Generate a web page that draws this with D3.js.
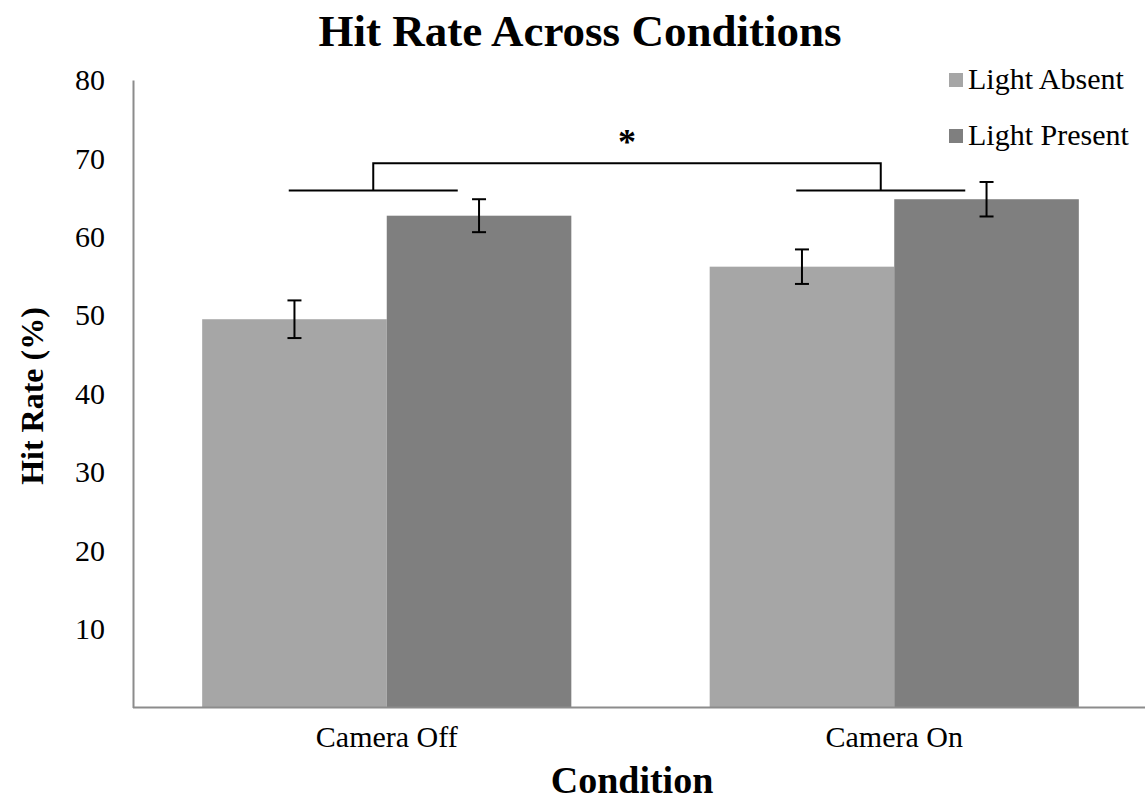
<!DOCTYPE html>
<html>
<head>
<meta charset="utf-8">
<script src="https://cdn.jsdelivr.net/npm/d3@7"></script>
<style>
  body { margin: 0; background: #fff; }
  text { font-family: "Liberation Serif", "Times New Roman", serif; fill: #000; }
</style>
</head>
<body>
<svg width="1145" height="801"></svg>
<script>
// data
let conditions = ["Camera Off", "Camera On"];
let series = ["Light Absent", "Light Present"];
let absentVals = [49.5, 56.2];
let presentVals = [62.7, 64.8];
let absentErr = [2.4, 2.2];
let presentErr = [2.1, 2.2];
let yTicks = [10, 20, 30, 40, 50, 60, 70, 80];
let colors = ["#a6a6a6", "#7f7f7f"];

let svg = d3.select("svg");

let plotLeft = 133, plotRight = 1148, plotTop = 80, plotBottom = 707.5;

let x = d3.scaleBand()
  .domain(conditions)
  .range([plotLeft, plotRight])
  .paddingInner(0.2726)
  .paddingOuter(0.1363);

let x1 = d3.scaleBand()
  .domain(series)
  .range([0, x.bandwidth()]);

let y = d3.scaleLinear()
  .domain([0, 80])
  .range([plotBottom, plotTop]);

// rows for bars
let rows = [];
conditions.forEach((c, i) => {
  rows.push({ cond: c, s: series[0], v: absentVals[i], e: absentErr[i] });
  rows.push({ cond: c, s: series[1], v: presentVals[i], e: presentErr[i] });
});

// title
svg.append("text")
  .attr("x", 580)
  .attr("y", 46)
  .attr("text-anchor", "middle")
  .style("font-size", "45px")
  .style("font-weight", "bold")
  .text("Hit Rate Across Conditions");

// bars
svg.append("g").selectAll("rect")
  .data(rows)
  .join("rect")
  .attr("x", d => x(d.cond) + x1(d.s))
  .attr("y", d => y(d.v))
  .attr("width", x1.bandwidth())
  .attr("height", d => y(0) - y(d.v))
  .attr("fill", d => colors[series.indexOf(d.s)]);

// error bars
let eb = svg.append("g")
  .attr("stroke", "#000")
  .attr("stroke-width", 2);

rows.forEach(d => {
  let cx = x(d.cond) + x1(d.s) + x1.bandwidth() / 2;
  eb.append("line")
    .attr("x1", cx).attr("x2", cx)
    .attr("y1", y(d.v + d.e)).attr("y2", y(d.v - d.e));
  eb.append("line")
    .attr("x1", cx - 7).attr("x2", cx + 7)
    .attr("y1", y(d.v + d.e)).attr("y2", y(d.v + d.e));
  eb.append("line")
    .attr("x1", cx - 7).attr("x2", cx + 7)
    .attr("y1", y(d.v - d.e)).attr("y2", y(d.v - d.e));
});

// axes
let yAxis = svg.append("g")
  .attr("transform", `translate(${plotLeft},0)`)
  .call(d3.axisLeft(y).tickValues(yTicks).tickSize(0).tickPadding(28));
yAxis.select(".domain").attr("stroke", "#8c8c8c").attr("stroke-width", 2);
yAxis.selectAll("text")
  .style("font-size", "30px")
  .style("font-family", "Liberation Serif, serif");

svg.append("line")
  .attr("x1", plotLeft).attr("x2", 1145)
  .attr("y1", plotBottom).attr("y2", plotBottom)
  .attr("stroke", "#8c8c8c")
  .attr("stroke-width", 2);

let xAxis = svg.append("g")
  .attr("transform", `translate(0,${plotBottom})`)
  .call(d3.axisBottom(x).tickSize(0).tickPadding(18));
xAxis.select(".domain").remove();
xAxis.selectAll("text")
  .style("font-size", "30px")
  .style("font-family", "Liberation Serif, serif");

// axis titles
svg.append("text")
  .attr("transform", "translate(43,396) rotate(-90)")
  .attr("text-anchor", "middle")
  .style("font-size", "32px")
  .style("font-weight", "bold")
  .text("Hit Rate (%)");

svg.append("text")
  .attr("x", 632)
  .attr("y", 793)
  .attr("text-anchor", "middle")
  .style("font-size", "38px")
  .style("font-weight", "bold")
  .text("Condition");

// significance bracket
let br = svg.append("g")
  .attr("stroke", "#000")
  .attr("stroke-width", 2)
  .attr("fill", "none");
let lowY = y(65.9), highY = y(69.4);
let mids = conditions.map(c => {
  let cx = x(c) + x.bandwidth() / 2;
  br.append("line")
    .attr("x1", cx - 98).attr("x2", cx + 71)
    .attr("y1", lowY).attr("y2", lowY);
  return cx - 13.5;
});
br.append("path")
  .attr("d", `M${mids[0]},${lowY}V${highY}H${mids[1]}V${lowY}`);

svg.append("text")
  .attr("x", (mids[0] + mids[1]) / 2)
  .attr("y", 154)
  .attr("text-anchor", "middle")
  .style("font-size", "36px")
  .style("font-weight", "bold")
  .text("*");

// legend
let lg = svg.append("g");
series.forEach((s, i) => {
  let ly = 80 + i * 56;
  lg.append("rect")
    .attr("x", 949).attr("y", ly - 7)
    .attr("width", 14).attr("height", 14)
    .attr("fill", colors[i]);
  lg.append("text")
    .attr("x", 968).attr("y", ly + 9)
    .style("font-size", "30px")
    .text(s);
});
</script>
</body>
</html>
